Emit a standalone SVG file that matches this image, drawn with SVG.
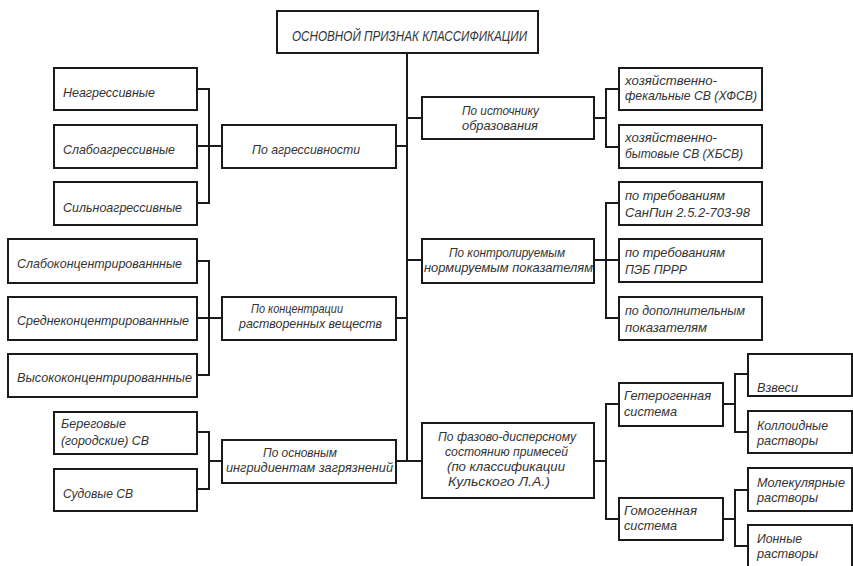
<svg xmlns="http://www.w3.org/2000/svg" width="853" height="566" viewBox="0 0 853 566">
<style>
.b{fill:#fff;stroke:#1a1a1a;stroke-width:2}
.c{fill:none;stroke:#1a1a1a;stroke-width:2}
.t{font-family:"Liberation Sans","DejaVu Sans",sans-serif;font-style:italic;font-size:13.5px;fill:#333}
</style>
<rect width="853" height="566" fill="#fff"/>
<g id="connectors">
<path class="c" d="M407,53 V461"/>
<path class="c" d="M396,146 H407 M396,318 H407 M396,461 H407 M407,118 H422 M407,260 H422 M407,461 H422"/>
<path class="c" d="M197,89 H209 V203 H197 M197,146 H222"/>
<path class="c" d="M197,261 H209 V375 H197 M197,318 H222"/>
<path class="c" d="M197,432 H209 V489 H197 M209,461 H222"/>
<path class="c" d="M594,118 H606 M619,89 H606 V147 H619"/>
<path class="c" d="M594,260 H619 M619,203 H606 V318 H619"/>
<path class="c" d="M594,461 H606 M619,404 H606 V519 H619"/>
<path class="c" d="M723,404 H735 M748,374 H735 V432 H748"/>
<path class="c" d="M723,519 H735 M748,490 H735 V546 H748"/>
</g>
<g id="root"><rect class="b" x="277" y="11" width="261" height="42"/><text class="t" x="292" y="41" textLength="235" lengthAdjust="spacingAndGlyphs" style="font-size:14.5px">ОСНОВНОЙ ПРИЗНАК КЛАССИФИКАЦИИ</text></g>

<g id="agr"><rect class="b" x="222" y="125" width="174" height="43"/><text class="t" x="252" y="154" textLength="108" lengthAdjust="spacingAndGlyphs">По агрессивности</text></g>
<g id="agr1"><rect class="b" x="54" y="68" width="143" height="42"/><text class="t" x="63" y="97" textLength="92" lengthAdjust="spacingAndGlyphs">Неагрессивные</text></g>
<g id="agr2"><rect class="b" x="54" y="125" width="143" height="43"/><text class="t" x="63" y="154" textLength="112" lengthAdjust="spacingAndGlyphs">Слабоагрессивные</text></g>
<g id="agr3"><rect class="b" x="54" y="182" width="143" height="43"/><text class="t" x="63" y="212" textLength="119" lengthAdjust="spacingAndGlyphs">Сильноагрессивные</text></g>

<g id="conc"><rect class="b" x="222" y="297" width="174" height="43"/><text class="t" x="251" y="313" textLength="92" lengthAdjust="spacingAndGlyphs">По концентрации</text><text class="t" x="239" y="328" textLength="143" lengthAdjust="spacingAndGlyphs">растворенных веществ</text></g>
<g id="conc1"><rect class="b" x="8" y="239" width="189" height="44"/><text class="t" x="17" y="268" textLength="165" lengthAdjust="spacingAndGlyphs">Слабоконцентрированнные</text></g>
<g id="conc2"><rect class="b" x="8" y="297" width="189" height="43"/><text class="t" x="17" y="325" textLength="172" lengthAdjust="spacingAndGlyphs">Среднеконцентрированнные</text></g>
<g id="conc3"><rect class="b" x="8" y="354" width="189" height="43"/><text class="t" x="17" y="382" textLength="175" lengthAdjust="spacingAndGlyphs">Высококонцентрированнные</text></g>

<g id="ingr"><rect class="b" x="222" y="440" width="174" height="43"/><text class="t" x="263" y="457" textLength="74" lengthAdjust="spacingAndGlyphs">По основным</text><text class="t" x="226" y="472" textLength="167" lengthAdjust="spacingAndGlyphs">ингридиентам загрязнений</text></g>
<g id="ingr1"><rect class="b" x="54" y="412" width="143" height="42"/><text class="t" x="61" y="428" textLength="65" lengthAdjust="spacingAndGlyphs">Береговые</text><text class="t" x="61" y="445" textLength="88" lengthAdjust="spacingAndGlyphs">(городские) СВ</text></g>
<g id="ingr2"><rect class="b" x="54" y="469" width="143" height="42"/><text class="t" x="63" y="498" textLength="70" lengthAdjust="spacingAndGlyphs">Судовые СВ</text></g>

<g id="src"><rect class="b" x="422" y="97" width="172" height="42"/><text class="t" x="462" y="115" textLength="77" lengthAdjust="spacingAndGlyphs">По источнику</text><text class="t" x="462" y="130" textLength="76" lengthAdjust="spacingAndGlyphs">образования</text></g>
<g id="src1"><rect class="b" x="619" y="68" width="143" height="42"/><text class="t" x="625" y="85" textLength="92" lengthAdjust="spacingAndGlyphs">хозяйственно-</text><text class="t" x="625" y="100" textLength="132" lengthAdjust="spacingAndGlyphs">фекальные СВ (ХФСВ)</text></g>
<g id="src2"><rect class="b" x="619" y="125" width="143" height="43"/><text class="t" x="625" y="142" textLength="92" lengthAdjust="spacingAndGlyphs">хозяйственно-</text><text class="t" x="625" y="158" textLength="118" lengthAdjust="spacingAndGlyphs">бытовые СВ (ХБСВ)</text></g>

<g id="ctrl"><rect class="b" x="422" y="239" width="172" height="44"/><text class="t" x="449" y="257" textLength="116" lengthAdjust="spacingAndGlyphs">По контролируемым</text><text class="t" x="424" y="272" textLength="169" lengthAdjust="spacingAndGlyphs">нормируемым показателям</text></g>
<g id="ctrl1"><rect class="b" x="619" y="182" width="143" height="43"/><text class="t" x="625" y="200" textLength="100" lengthAdjust="spacingAndGlyphs">по требованиям</text><text class="t" x="625" y="217" textLength="125" lengthAdjust="spacingAndGlyphs">СанПин 2.5.2-703-98</text></g>
<g id="ctrl2"><rect class="b" x="619" y="239" width="143" height="43"/><text class="t" x="625" y="257" textLength="100" lengthAdjust="spacingAndGlyphs">по требованиям</text><text class="t" x="625" y="274" textLength="62" lengthAdjust="spacingAndGlyphs">ПЭБ ПРРР</text></g>
<g id="ctrl3"><rect class="b" x="619" y="297" width="143" height="43"/><text class="t" x="625" y="315" textLength="120" lengthAdjust="spacingAndGlyphs">по дополнительным</text><text class="t" x="625" y="332" textLength="82" lengthAdjust="spacingAndGlyphs">показателям</text></g>

<g id="phase"><rect class="b" x="422" y="423" width="172" height="75"/><text class="t" x="438" y="441" textLength="138" lengthAdjust="spacingAndGlyphs">По фазово-дисперсному</text><text class="t" x="445" y="456" textLength="123" lengthAdjust="spacingAndGlyphs">состоянию примесей</text><text class="t" x="447" y="471" textLength="118" lengthAdjust="spacingAndGlyphs">(по классификации</text><text class="t" x="448" y="486" textLength="102" lengthAdjust="spacingAndGlyphs">Кульского Л.А.)</text></g>
<g id="het"><rect class="b" x="619" y="383" width="104" height="43"/><text class="t" x="624" y="400" textLength="87" lengthAdjust="spacingAndGlyphs">Гетерогенная</text><text class="t" x="624" y="416" textLength="53" lengthAdjust="spacingAndGlyphs">система</text></g>
<g id="hom"><rect class="b" x="619" y="498" width="104" height="42"/><text class="t" x="624" y="515" textLength="73" lengthAdjust="spacingAndGlyphs">Гомогенная</text><text class="t" x="624" y="530" textLength="53" lengthAdjust="spacingAndGlyphs">система</text></g>
<g id="vzv"><rect class="b" x="748" y="354" width="104" height="42"/><text class="t" x="757" y="392" textLength="41" lengthAdjust="spacingAndGlyphs">Взвеси</text></g>
<g id="koll"><rect class="b" x="748" y="411" width="104" height="42"/><text class="t" x="757" y="430" textLength="71" lengthAdjust="spacingAndGlyphs">Коллоидные</text><text class="t" x="757" y="445" textLength="61" lengthAdjust="spacingAndGlyphs">растворы</text></g>
<g id="mol"><rect class="b" x="748" y="468" width="104" height="43"/><text class="t" x="757" y="487" textLength="88" lengthAdjust="spacingAndGlyphs">Молекулярные</text><text class="t" x="757" y="502" textLength="61" lengthAdjust="spacingAndGlyphs">растворы</text></g>
<g id="ion"><rect class="b" x="748" y="525" width="104" height="46"/><text class="t" x="757" y="543" textLength="45" lengthAdjust="spacingAndGlyphs">Ионные</text><text class="t" x="757" y="558" textLength="61" lengthAdjust="spacingAndGlyphs">растворы</text></g>
</svg>
